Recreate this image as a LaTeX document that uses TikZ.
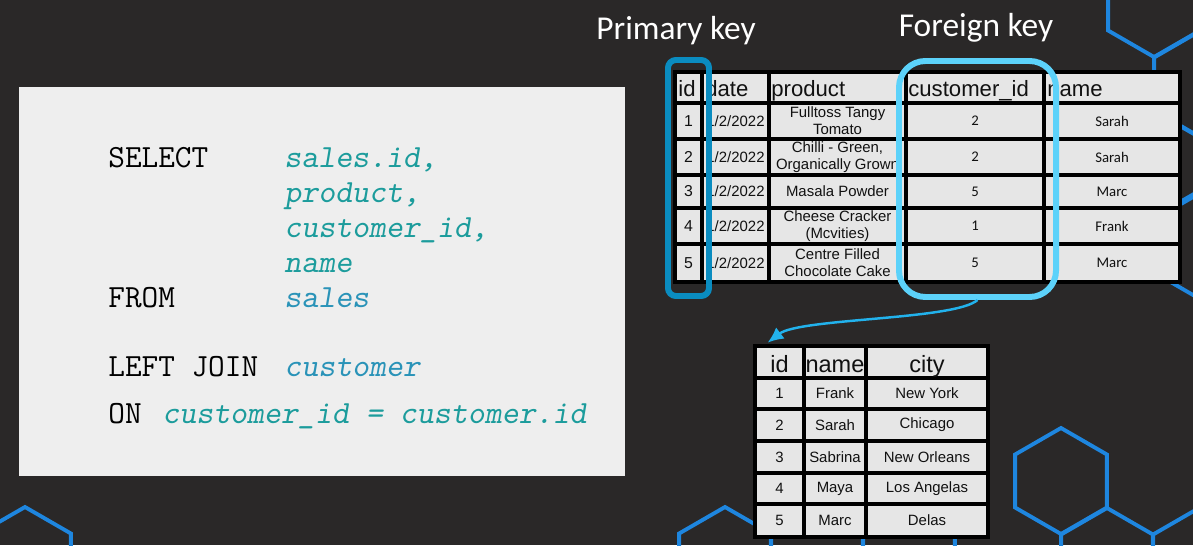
\documentclass[tikz,border=0pt]{standalone}
\usepackage{fontspec}
\setmainfont{Liberation Sans}
\newfontfamily\calfont{Carlito}
\usetikzlibrary{arrows.meta,fit}

\definecolor{slidebg}{HTML}{2A2828}
\definecolor{codebg}{HTML}{EEEEEE}
\definecolor{cellgray}{HTML}{E6E6E6}
\definecolor{hexblue}{HTML}{1E86DF}
\definecolor{pkblue}{HTML}{0A8CC0}
\definecolor{fkcyan}{HTML}{5CD2FA}
\definecolor{arrowblue}{HTML}{22B2EC}
\definecolor{codeteal}{HTML}{1C9C9C}
\definecolor{codeblue}{HTML}{2A93B8}
\definecolor{celltext}{HTML}{111111}

\tikzset{
  hexline/.style={draw=hexblue, line width=2.2pt},
  cellbox/.style={fill=cellgray, draw=black, line width=2.2pt},
  keytitle/.style={text=white, anchor=base, inner sep=0, font=\calfont\fontsize{19}{22}\selectfont},
  kw/.style={anchor=base west, inner sep=0, text=black, font=\ttfamily\fontsize{18.4}{20}\selectfont},
  val/.style={kw, text=codeteal, font=\ttfamily\slshape\fontsize{18.4}{20}\selectfont},
  headtxt/.style={anchor=base west, inner sep=0, text=celltext, font=\fontsize{12.6}{14}\selectfont},
  celltxt/.style={inner sep=0, text=celltext, align=center, font=\fontsize{8.5}{9.7}\selectfont},
  calcell/.style={inner sep=0, text=celltext, font=\calfont\fontsize{8.4}{10}\selectfont},
  keybox/.style={draw, line width=3.4pt, inner sep=0},
  joinarrow/.style={draw=arrowblue, line width=1.4pt, -{Latex[length=9pt,width=8pt]}}
}

\begin{document}
\begin{tikzpicture}[x=0.02cm, y=-0.02cm]
  \useasboundingbox (0,0) rectangle (1193,545);
  \clip (0,0) rectangle (1193,545);
  \fill[slidebg] (0,0) rectangle (1193,545);

  % honeycomb in the background
  \foreach \cx/\cy in {1154/4,1200/84,1154/164,1200/246,1061/481,1107/561,1199/561,725/560,817/560,909/560,25/560}
    \draw[hexline] (\cx,\cy) +(90:53) -- +(30:53) -- +(-30:53) -- +(-90:53) -- +(-150:53) -- +(150:53) -- cycle;

  % query
  \fill[codebg] (19,87) rectangle (625,476);
  \node[kw] (sel) at (108,167) {SELECT};
  \foreach \y/\t [count=\i] in {167/{sales.id,},202/{product,},237/{customer\_id,},272/name}
    \node[val] (col\i) at (284,\y) {\t};
  \node[kw] (from) at (108,307) {FROM};
  \node[val, text=codeblue] (fromtab) at (284,307) {sales};
  \node[kw] (join) at (108,376) {LEFT JOIN};
  \node[val, text=codeblue] (jointab) at (284,376) {customer};
  \node[kw] (on) at (108,423) {ON};
  \node[val] (oncond) at (162,423) {customer\_id = customer.id};

  % sales table
  \foreach \ya/\yb in {72/103,103/139,139/175,175/208,208/244,244/282}
    \foreach \xa/\xb in {675/702,702/769,769/906,906/1044,1044/1180}
      \filldraw[cellbox] (\xa,\ya) rectangle (\xb,\yb);
  \foreach \x/\t [count=\i] in {678/id,705/date,771/product,908/customer\_id,1047/name}
    \node[headtxt] (sh\i) at (\x,96) {\t};
  \foreach \y/\prod/\cid/\cname [count=\i] in {121/{Fulltoss Tangy\\Tomato}/2/Sarah,157/{Chilli - Green,\\Organically Grown}/2/Sarah,191.5/Masala Powder/5/Marc,226/{Cheese Cracker\\(Mcvities)}/1/Frank,263/{Centre Filled\\Chocolate Cake}/5/Marc} {
    \node[celltxt, font=\fontsize{9}{10}\selectfont] (sid\i) at (688.5,\y) {\i};
    \node[celltxt] (sdate\i) at (735.5,\y) {1/2/2022};
    \node[celltxt] (sprod\i) at (837.5,\y) {\prod};
    \node[calcell] (scid\i) at (975,\y) {\cid};
    \node[calcell] (sname\i) at (1112,\y) {\cname};
  }

  % customer table
  \foreach \ya/\yb in {346/378,378/409,409/441,441/473,473/504,504/537}
    \foreach \xa/\xb in {755/804,804/866,866/988}
      \filldraw[cellbox] (\xa,\ya) rectangle (\xb,\yb);
  \node[fit={(755,346) (988,537)}, inner sep=0] (cust) {};
  \foreach \x/\t [count=\i] in {779.5/id,835/name,927/city}
    \node[headtxt, anchor=base, font=\fontsize{13.4}{15}\selectfont] (ch\i) at (\x,372) {\t};
  \foreach \y/\cname/\city [count=\i] in {393.5/Frank/New York,425/Sarah/Chicago,457/Sabrina/New Orleans,488.5/Maya/Los Angelas,520.5/Marc/Delas} {
    \node[celltxt] (cid\i) at (779.5,\y) {\i};
    \node[celltxt] (cname\i) at (835,\y) {\cname};
    \node[celltxt] (ccity\i) at (927,\y) {\city};
  }

  % keys
  \node[keybox, draw=pkblue, rounded corners=4.5pt, fit={(668,60) (709,296)}] (pk) {};
  \node[keybox, draw=fkcyan, rounded corners=15pt, fit={(899,61) (1056,297)}] (fk) {};
  \node[keytitle] (pktitle) at (676,39) {Primary key};
  \node[keytitle] (fktitle) at (976,36) {Foreign key};

  \draw[joinarrow] (fk.south) .. controls (955,320) and (800,318) .. ([shift={(13,-3)}]cust.north west);
\end{tikzpicture}
\end{document}
